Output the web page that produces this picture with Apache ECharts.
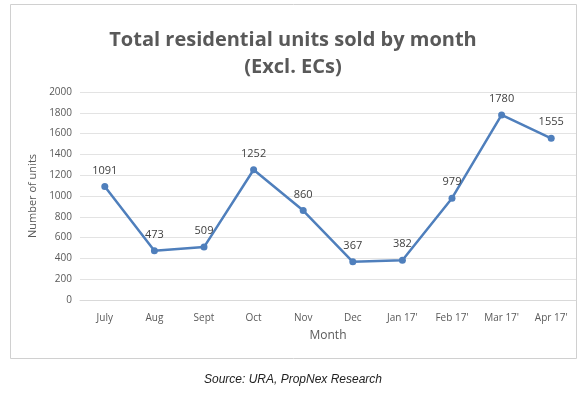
<!DOCTYPE html>
<html>
<head>
<meta charset="utf-8">
<script src="https://cdn.jsdelivr.net/npm/echarts@6/dist/echarts.min.js"></script>
<style>
  html, body { margin: 0; padding: 0; background: #fff; }
  #chart { width: 586px; height: 401px; }
</style>
</head>
<body>
<div id="chart"></div>
<script>
// data
const months = ['July', 'Aug', 'Sept', 'Oct', 'Nov', 'Dec', "Jan 17'", "Feb 17'", "Mar 17'", "Apr 17'"];
const unitsSold = [1091, 473, 509, 1252, 860, 367, 382, 979, 1780, 1555];

const myChart = echarts.init(document.getElementById('chart'));

myChart.setOption({
    backgroundColor: '#fff',
    animation: false,
    textStyle: { fontFamily: 'Open Sans' },
    title: {
        text: 'Total residential units sold by month\n(Excl. ECs)',
        left: 'center',
        top: 22,
        textStyle: {
            fontFamily: 'Open Sans',
            fontSize: 20,
            fontWeight: 'bold',
            color: '#595959',
            lineHeight: 27
        }
    },
    graphic: [
        {
            type: 'rect',
            shape: { x: 10.5, y: 4.5, width: 566, height: 354 },
            style: { fill: 'none', stroke: '#d0d0d0', lineWidth: 1 },
            z: -1
        },
        {
            type: 'text',
            left: 'center',
            top: 374,
            style: {
                text: 'Source: URA, PropNex Research',
                font: 'italic 12px Arial, "Liberation Sans"',
                fill: '#222'
            }
        }
    ],
    grid: { left: 80, right: 10, top: 92, bottom: 101 },
    xAxis: {
        type: 'category',
        data: months,
        boundaryGap: true,
        name: 'Month',
        nameLocation: 'middle',
        nameGap: 30,
        nameTextStyle: { color: '#595959', fontSize: 12 },
        axisLine: { lineStyle: { color: '#d9d9d9' } },
        axisTick: { show: false },
        axisLabel: { color: '#595959', fontSize: 10, margin: 13 }
    },
    yAxis: {
        type: 'value',
        min: 0,
        max: 2000,
        interval: 200,
        name: 'Number of units',
        nameLocation: 'middle',
        nameGap: 42,
        nameTextStyle: { color: '#595959', fontSize: 11 },
        axisLine: { show: false },
        axisTick: { show: false },
        axisLabel: { color: '#595959', fontSize: 10, formatter: v => String(v) },
        splitLine: { lineStyle: { color: '#e3e3e3' } }
    },
    series: [{
        type: 'line',
        data: unitsSold,
        symbol: 'circle',
        symbolSize: 7,
        lineStyle: { color: '#4f7fbc', width: 2.5 },
        itemStyle: { color: '#4f7fbc' },
        label: { show: true, position: 'top', color: '#404040', fontSize: 11, distance: 7 }
    }]
});
</script>
</body>
</html>
